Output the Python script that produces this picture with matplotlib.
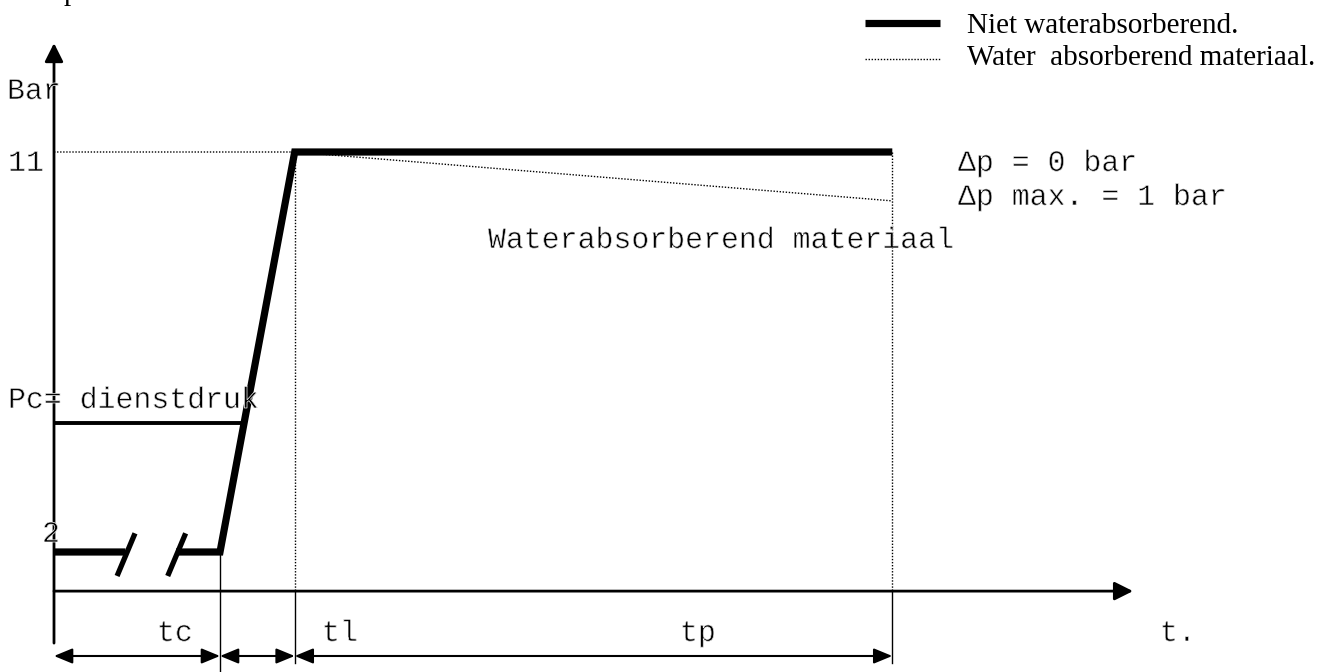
import numpy as np
import matplotlib
matplotlib.use('Agg')
import matplotlib.pyplot as plt
from matplotlib.patches import FancyArrowPatch
from matplotlib.lines import Line2D
import matplotlib.patheffects as pe

# pressure test diagram (schematic): time units on x, bar on y
t_c = 10.0          # conditioning time
t_l = 4.5           # loading time
t_p = 36.0          # test time
p_start = 2.0
p_test = 11.0
p_service = 4.9
p_end_absorb = 9.9
break_left, break_right = 4.3, 7.35
axis_p = 1.12       # where the time axis crosses
t_axis_end = 65.0
p_axis_top = 13.45

label_thick = 'Niet waterabsorberend.'
label_dotted = 'Water  absorberend materiaal.'
y_labels = ['Bar', '11', 'Pc= dienstdruk', '2']
t_labels = ['tc', 'tl', 'tp', 't.']
notes = ['\u0394p = 0 bar', '\u0394p max. = 1 bar']

W, H = 1328, 672
mono = ['Liberation Mono', 'DejaVu Sans Mono']
serif = ['Liberation Serif', 'DejaVu Serif']
thin = [pe.Normal(), pe.Stroke(linewidth=0.5, foreground='white')]

fig = plt.figure(figsize=(W / 100, H / 100), dpi=100)
ax = fig.add_axes([0, 0, 1, 1])
ax.set_xlim(-54 / 16.6, (W - 54) / 16.6)
ax.set_ylim(11 - 520 / 44.444, 11 + 152 / 44.444)
ax.axis('off')

t_ramp = t_c + t_l
t_end = t_ramp + t_p

# axes with arrows
for start, end in [((0, -0.05), (0, p_axis_top)), ((0, axis_p), (t_axis_end, axis_p))]:
    ax.add_patch(FancyArrowPatch(start, end, arrowstyle='-|>,head_length=0.8,head_width=0.4',
                                 mutation_scale=14, lw=2, color='black', shrinkA=0, shrinkB=0))

# thick curve (not absorbing)
thick_t = [0, break_left, np.nan, break_right, t_c, t_ramp, t_end]
thick_p = [p_start, p_start, np.nan, p_start, p_start, p_test, p_test]
ax.plot(thick_t, thick_p, color='black', lw=5.2, solid_joinstyle='miter',
        solid_capstyle='butt')

# dotted curve (absorbing material)
dot = (0, (1, 1.2))
ax.plot([0, t_ramp, t_end], [p_test, p_test, p_end_absorb], color='black', lw=1, linestyle=dot)
for tv in [t_ramp, t_end]:
    ax.plot([tv, tv], [p_test, axis_p], color='black', lw=1, linestyle=dot)
    ax.plot([tv, tv], [axis_p, -0.5], color='black', lw=1)
ax.plot([t_c, t_c], [p_start, -0.72], color='black', lw=1)

# service pressure line up to the ramp
t_pc = np.interp(p_service, [p_start, p_test], [t_c, t_ramp])
ax.plot([0, t_pc], [p_service, p_service], color='black', lw=2.8, solid_capstyle='butt')

# axis break marks
for b in [break_left, break_right]:
    ax.plot([b - 0.5, b + 0.58], [1.46, 2.42], color='black', lw=3.8, solid_capstyle='butt')

# dimension arrows
dim_p = -0.34
for a, b in [(0, t_c), (t_c, t_ramp), (t_ramp, t_end)]:
    ax.add_patch(FancyArrowPatch((a, dim_p), (b, dim_p),
                                 arrowstyle='<|-|>,head_length=0.8,head_width=0.33',
                                 mutation_scale=14, lw=1.5, color='black', shrinkA=0, shrinkB=0))

def ftext(px, py, s, **kw):
    fig.text(px / W, 1 - py / H, s, va='baseline', ha='left', **kw)

fs = 21.5
ftext(7, 99, y_labels[0], family=mono, size=fs, path_effects=thin)
ftext(8, 171, y_labels[1], family=mono, size=fs, path_effects=thin)
ftext(8, 408, y_labels[2], family=mono, size=fs, path_effects=thin)
ftext(42, 542, y_labels[3], family=mono, size=fs, path_effects=thin)
ftext(157, 641, t_labels[0], family=mono, size=fs, path_effects=thin)
ftext(322, 641, t_labels[1], family=mono, size=fs, path_effects=thin)
ftext(680, 641, t_labels[2], family=mono, size=fs, path_effects=thin)
ftext(1160, 641, t_labels[3], family=mono, size=fs, path_effects=thin)
ftext(488, 248, 'Waterabsorberend materiaal', family=mono, size=fs, path_effects=thin)
ftext(958, 171, notes[0], family=mono, size=fs, path_effects=thin)
ftext(958, 205, notes[1], family=mono, size=fs, path_effects=thin)
# cut-off line from the page above
ftext(64, 0, 'p', family=serif, size=21)

# legend, drawn by hand
fig.add_artist(Line2D([865 / W, 940 / W], [1 - 23 / H] * 2, color='black', lw=5.2,
                      solid_capstyle='butt'))
fig.add_artist(Line2D([865 / W, 940 / W], [1 - 59 / H] * 2, color='black', lw=1, linestyle=dot))
ftext(967, 33, label_thick, family=serif, size=21)
ftext(967, 65, label_dotted, family=serif, size=21)

fig.savefig('out.png', dpi=100)
